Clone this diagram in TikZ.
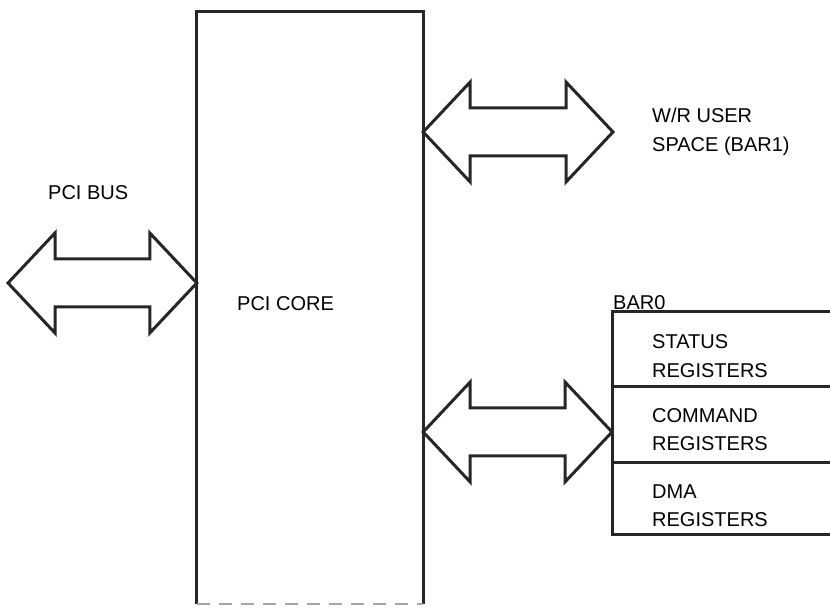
\documentclass[tikz,border=0pt]{standalone}
\usepackage{fontspec}
\setmainfont{Liberation Sans}
\usetikzlibrary{calc, positioning}
\tikzset{
  wire/.style  ={draw=black!85, line width=3pt},
  bus/.style   ={wire, line join=miter},
  lbl/.style   ={anchor=west, inner sep=0pt, align=left,
                 font=\fontsize{20}{28.5}\selectfont},
  regrow/.style={anchor=north west, minimum width=218pt, inner sep=0pt},
}
% fat double-headed bus arrow between two points on one line
\newcommand{\busarrow}[2]{%
  \draw[bus] (#1) -- ++(47,50) -- ++(0,-26) -- ($(#2)+(-47,24)$) -- ++(0,26) -- (#2)
    -- ++(-47,-50) -- ++(0,26) -- ($(#1)+(47,-24)$) -- ++(0,-26) -- cycle;}

\begin{document}
\begin{tikzpicture}[x=1pt, y=1pt]
  \useasboundingbox (0,0) rectangle (830,608);

  \node[minimum width=226pt, minimum height=592pt, inner sep=0pt] (core) at (310,300) {};
  \draw[wire] (core.south west) -- (core.north west) -- (core.north east) -- (core.south east);
  \draw[draw=black!35, line width=2pt, dash pattern=on 13pt off 9pt]
    (core.south west) -- (core.south east);
  \node[lbl] (corelbl) at (237,304) {PCI CORE};

  \node[lbl] (pcibus) at (48,415) {PCI BUS};
  \coordinate (busend) at (8,325);
  \busarrow{busend}{core.west |- busend}

  \node[lbl] (wruser) at (652,476) {W/R USER\\SPACE (BAR1)};
  \coordinate (wrend) at (613,476);
  \busarrow{core.east |- wrend}{wrend}

  \node[regrow, minimum height=74pt] (status)  at (612,296) {};
  \node[regrow, minimum height=76pt] (command) at (status.south west) {};
  \node[regrow, minimum height=71pt] (dma)     at (command.south west) {};
  \draw[wire] (status.north east) -- (status.north west) -- (dma.south west) -- (dma.south east);
  \draw[wire] (status.south west) -- (status.south east);
  \draw[wire] (command.south west) -- (command.south east);
  \node[lbl, anchor=south west, above right=2pt and 1pt of status.north west] (bar0) {BAR0};
  \node[lbl] (statuslbl)  at ($(status.west)+(40,-7)$)  {STATUS\\REGISTERS};
  \node[lbl] (commandlbl) at ($(command.west)+(40,-5)$) {COMMAND\\REGISTERS};
  \node[lbl] (dmalbl)     at ($(dma.west)+(40,-7)$)     {DMA\\REGISTERS};

  \coordinate (regs) at (612,176);
  \busarrow{core.east |- regs}{regs}
\end{tikzpicture}
\end{document}
